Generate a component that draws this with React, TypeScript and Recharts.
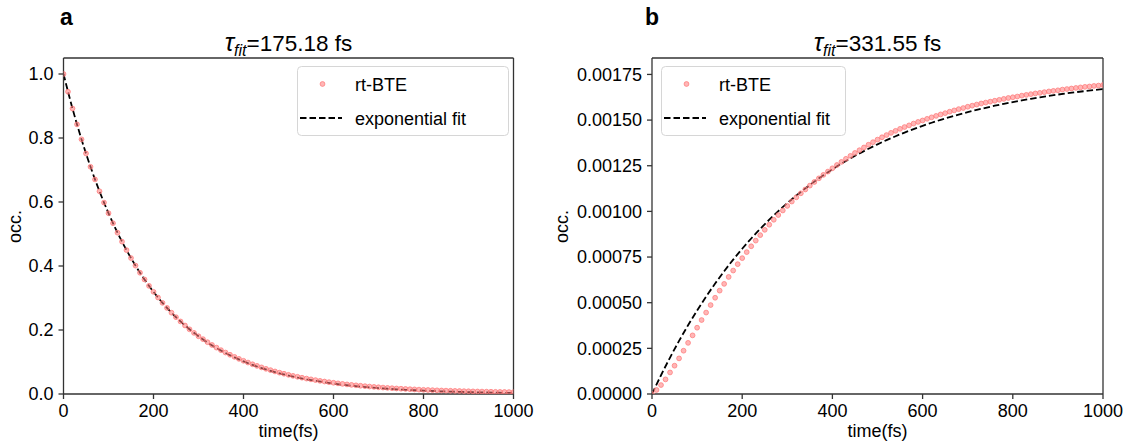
import React from "react";
import { ComposedChart, Line, Scatter, XAxis, YAxis, ReferenceLine } from "recharts";

// sampling times (fs)
const DOT_TIMES = [
  0, 10, 20, 30, 40, 50, 60, 70, 80, 90, 100, 110, 120, 130, 140, 150, 160, 170, 180, 190,
  200, 210, 220, 230, 240, 250, 260, 270, 280, 290, 300, 310, 320, 330, 340, 350, 360, 370, 380, 390,
  400, 410, 420, 430, 440, 450, 460, 470, 480, 490, 500, 510, 520, 530, 540, 550, 560, 570, 580, 590,
  600, 610, 620, 630, 640, 650, 660, 670, 680, 690, 700, 710, 720, 730, 740, 750, 760, 770, 780, 790,
  800, 810, 820, 830, 840, 850, 860, 870, 880, 890, 900, 910, 920, 930, 940, 950, 960, 970, 980, 990,
  1000,
];
const FIT_TIMES = [
  0, 20, 40, 60, 80, 100, 120, 140, 160, 180, 200, 220, 240, 260, 280, 300, 320, 340, 360, 380,
  400, 420, 440, 460, 480, 500, 520, 540, 560, 580, 600, 620, 640, 660, 680, 700, 720, 740, 760, 780,
  800, 820, 840, 860, 880, 900, 920, 940, 960, 980, 1000,
];

// panel a
const BTE_A = [
  1.0, 0.9445, 0.8921, 0.8426, 0.7958, 0.7517, 0.71, 0.6706, 0.6334, 0.5982,
  0.565, 0.5337, 0.5041, 0.4761, 0.4497, 0.4248, 0.4012, 0.3789, 0.3579, 0.338,
  0.3193, 0.3015, 0.2848, 0.269, 0.2541, 0.24, 0.2267, 0.2141, 0.2022, 0.191,
  0.1804, 0.1714, 0.1619, 0.1532, 0.1449, 0.137, 0.1296, 0.1226, 0.116, 0.1097,
  0.1038, 0.0983, 0.0929, 0.0879, 0.0832, 0.0787, 0.0746, 0.0705, 0.0667, 0.0633,
  0.0599, 0.0567, 0.0538, 0.0509, 0.0482, 0.0458, 0.0434, 0.0411, 0.039, 0.037,
  0.0351, 0.0333, 0.0316, 0.03, 0.0285, 0.0271, 0.0258, 0.0245, 0.0233, 0.0222,
  0.0211, 0.0201, 0.0191, 0.0182, 0.0173, 0.0165, 0.0158, 0.015, 0.0144, 0.0137,
  0.0131, 0.0125, 0.012, 0.0115, 0.011, 0.0105, 0.0101, 0.0097, 0.0093, 0.0089,
  0.0086, 0.0082, 0.0079, 0.0076, 0.0073, 0.007, 0.0068, 0.0065, 0.0063, 0.0061,
  0.0059,
];
const FIT_A = [
  1.0, 0.8921, 0.7958, 0.71, 0.6334, 0.565, 0.5041, 0.4497, 0.4012, 0.3579,
  0.3193, 0.2848, 0.2541, 0.2267, 0.2022, 0.1804, 0.1609, 0.1436, 0.1281, 0.1143,
  0.1019, 0.0909, 0.0811, 0.0724, 0.0645, 0.0576, 0.0514, 0.0458, 0.0409, 0.0365,
  0.0325, 0.029, 0.0259, 0.0231, 0.0206, 0.0184, 0.0164, 0.0146, 0.0131, 0.0117,
  0.0104, 0.0093, 0.0083, 0.0074, 0.0066, 0.0059, 0.0053, 0.0047, 0.0042, 0.0037,
  0.0033,
];

// panel b
const BTE_B = [
  0.0, 0.000022, 0.000049, 0.00008, 0.000118, 0.000155, 0.000195, 0.000237, 0.00028, 0.000321,
  0.000363, 0.000405, 0.000446, 0.000487, 0.000527, 0.000566, 0.000603, 0.000641, 0.000676, 0.000711,
  0.000744, 0.000777, 0.000809, 0.00084, 0.00087, 0.000899, 0.000927, 0.000954, 0.00098, 0.001005,
  0.00103, 0.001054, 0.001077, 0.001099, 0.00112, 0.001141, 0.001161, 0.001181, 0.0012, 0.001218,
  0.001236, 0.001254, 0.001271, 0.001288, 0.001304, 0.00132, 0.001335, 0.00135, 0.001365, 0.001379,
  0.001393, 0.001406, 0.001418, 0.00143, 0.001441, 0.001452, 0.001462, 0.001471, 0.001481, 0.00149,
  0.001498, 0.001507, 0.001515, 0.001523, 0.001531, 0.001538, 0.001546, 0.001553, 0.00156, 0.001566,
  0.001573, 0.001579, 0.001585, 0.001591, 0.001596, 0.001601, 0.001606, 0.001611, 0.001616, 0.001621,
  0.001625, 0.001629, 0.001634, 0.001638, 0.001642, 0.001646, 0.001649, 0.001653, 0.001657, 0.00166,
  0.001663, 0.001667, 0.00167, 0.001673, 0.001676, 0.001679, 0.001682, 0.001684, 0.001687, 0.001689,
  0.001692,
];
const FIT_B = [
  0.0, 0.0001028, 0.0001996, 0.0002907, 0.0003765, 0.0004572, 0.0005332, 0.0006048, 0.0006722, 0.0007356,
  0.0007954, 0.0008516, 0.0009045, 0.0009544, 0.0010013, 0.0010455, 0.0010871, 0.0011262, 0.0011631, 0.0011978,
  0.0012305, 0.0012612, 0.0012902, 0.0013175, 0.0013431, 0.0013673, 0.0013901, 0.0014115, 0.0014317, 0.0014506,
  0.0014685, 0.0014853, 0.0015012, 0.0015161, 0.0015301, 0.0015434, 0.0015558, 0.0015675, 0.0015786, 0.001589,
  0.0015987, 0.0016079, 0.0016166, 0.0016248, 0.0016325, 0.0016397, 0.0016465, 0.0016529, 0.0016589, 0.0016646,
  0.00167,
];

const X_TICKS = [0, 200, 400, 600, 800, 1000];
const Y_TICKS_A = [0, 0.2, 0.4, 0.6, 0.8, 1.0];
const Y_TICKS_B = [0, 0.00025, 0.0005, 0.00075, 0.001, 0.00125, 0.0015, 0.00175];

const FONT = '"Liberation Sans", Arial, sans-serif';
const AXIS = "#333";
const DOT_COLOR = "#ff7a7a";

const toRows = (ts: number[], vs: number[]) => ts.map((t, i) => ({ t, v: vs[i] }));

const Dot = (p: any) => (
  <circle
    cx={p.cx}
    cy={p.cy}
    r={2.4}
    fill={DOT_COLOR}
    fillOpacity={0.55}
    stroke={DOT_COLOR}
    strokeOpacity={0.75}
    strokeWidth={1}
  />
);

interface PanelProps {
  dots: { t: number; v: number }[];
  fit: { t: number; v: number }[];
  yMax: number;
  yTicks: number[];
  yFmt: (v: number) => string;
  width: number;
  yAxisWidth: number;
  marginLeft: number;
  marginRight: number;
}

const Panel: React.FC<PanelProps> = ({
  dots,
  fit,
  yMax,
  yTicks,
  yFmt,
  width,
  yAxisWidth,
  marginLeft,
  marginRight,
}) => {
  const tickStyle = { fontSize: 18, fill: "#000", fontFamily: FONT };
  return (
    <ComposedChart
      width={width}
      height={446}
      margin={{ top: 58, right: marginRight, bottom: 22, left: marginLeft }}
    >
      <XAxis
        dataKey="t"
        type="number"
        domain={[0, 1000]}
        ticks={X_TICKS}
        allowDataOverflow
        height={30}
        tick={tickStyle}
        tickSize={5}
        tickMargin={5}
        stroke={AXIS}
        strokeWidth={1.3}
        interval={0}
      />
      <YAxis
        type="number"
        domain={[0, yMax]}
        ticks={yTicks}
        allowDataOverflow
        width={yAxisWidth}
        tick={tickStyle}
        tickFormatter={yFmt}
        tickSize={5}
        tickMargin={5}
        stroke={AXIS}
        strokeWidth={1.3}
        interval={0}
      />
      {/* top and right spines */}
      <ReferenceLine y={yMax} stroke={AXIS} strokeWidth={1.3} />
      <ReferenceLine x={1000} stroke={AXIS} strokeWidth={1.3} />
      <Scatter data={dots} dataKey="v" shape={Dot} isAnimationActive={false} />
      <Line
        data={fit}
        dataKey="v"
        type="monotone"
        stroke="#000"
        strokeWidth={1.8}
        strokeDasharray="6.5 3"
        dot={false}
        isAnimationActive={false}
      />
    </ComposedChart>
  );
};

const Legend: React.FC<{ left: number; width: number }> = ({ left, width }) => (
  <g>
    <rect
      x={left + 0.5}
      y={66.5}
      width={width}
      height={69}
      rx={4}
      fill="#fff"
      fillOpacity={0.8}
      stroke="#d6d6d6"
    />
    <Dot cx={left + 25.5} cy={84} />
    <line x1={left + 3} x2={left + 45} y1={118} y2={118} stroke="#000" strokeWidth={1.8} strokeDasharray="6.5 3" />
    <text x={left + 58} y={90.5} fontSize={18}>rt-BTE</text>
    <text x={left + 58} y={124.5} fontSize={18}>exponential fit</text>
  </g>
);

const Title: React.FC<{ x: number; value: string }> = ({ x, value }) => (
  <text x={x} y={51} fontSize={22.5} textAnchor="middle">
    <tspan fontStyle="italic" fontSize={25}>τ</tspan>
    <tspan fontStyle="italic" fontSize={16} dy={5}>fit</tspan>
    <tspan dy={-5}>{value}</tspan>
  </text>
);

export default function App() {
  return (
    <div
      style={{
        position: "absolute",
        left: 0,
        top: 0,
        width: 1128,
        height: 446,
        background: "#fff",
        fontFamily: FONT,
      }}
    >
      <div style={{ position: "absolute", left: 0, top: 0 }}>
        <Panel
          dots={toRows(DOT_TIMES, BTE_A)}
          fit={toRows(FIT_TIMES, FIT_A)}
          yMax={1.05}
          yTicks={Y_TICKS_A}
          yFmt={(v) => v.toFixed(1)}
          width={560}
          yAxisWidth={60}
          marginLeft={3.5}
          marginRight={46.5}
        />
      </div>
      <div style={{ position: "absolute", left: 560, top: 0 }}>
        <Panel
          dots={toRows(DOT_TIMES, BTE_B)}
          fit={toRows(FIT_TIMES, FIT_B)}
          yMax={0.00184}
          yTicks={Y_TICKS_B}
          yFmt={(v) => v.toFixed(5)}
          width={568}
          yAxisWidth={85}
          marginLeft={7}
          marginRight={25}
        />
      </div>
      <svg
        width={1128}
        height={446}
        style={{ position: "absolute", left: 0, top: 0, pointerEvents: "none" }}
        fontFamily={FONT}
        fill="#000"
      >
        <text x={60} y={25} fontSize={23} fontWeight="bold">a</text>
        <text x={645} y={25} fontSize={23} fontWeight="bold">b</text>
        <Title x={288.5} value="=175.18 fs" />
        <Title x={877.5} value="=331.55 fs" />
        <text x={288.5} y={437} fontSize={18} textAnchor="middle">time(fs)</text>
        <text x={877.5} y={437} fontSize={18} textAnchor="middle">time(fs)</text>
        <text x={20.5} y={226.5} fontSize={18} textAnchor="middle" transform="rotate(-90 20.5 226.5)">occ.</text>
        <text x={568} y={226.5} fontSize={18} textAnchor="middle" transform="rotate(-90 568 226.5)">occ.</text>
        <Legend left={297} width={211} />
        <Legend left={661} width={184} />
      </svg>
    </div>
  );
}
